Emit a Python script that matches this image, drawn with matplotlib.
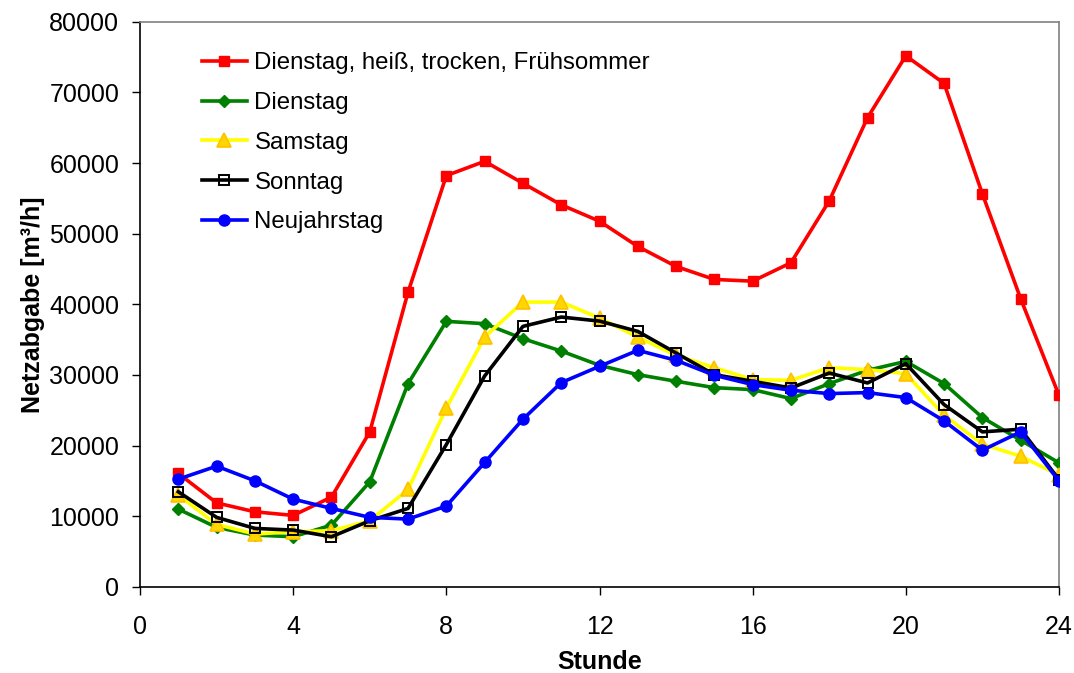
import matplotlib
matplotlib.use("Agg")
import matplotlib.pyplot as plt

hours = list(range(1, 25))

labels = ["Dienstag, heiß, trocken, Frühsommer", "Dienstag", "Samstag", "Sonntag", "Neujahrstag"]

dienstag_heiss = [16070, 11900, 10640, 10130, 12720, 21950, 41730, 58220, 60240, 57130,
                  54080, 51760, 48190, 45360, 43520, 43280, 45880, 54640, 66410, 75170,
                  71260, 55630, 40790, 27130]
dienstag = [11020, 8430, 7350, 7110, 8760, 14880, 28780, 37590, 37260, 35140,
            33390, 31370, 30050, 29110, 28210, 27930, 26660, 28780, 30660, 31930,
            28780, 23980, 20770, 17570]
samstag = [13000, 8860, 7490, 7820, 7960, 9370, 13800, 25340, 35370, 40320,
           40320, 38060, 35370, 32780, 31040, 29350, 29250, 31040, 30760, 30190,
           24300, 20210, 18510, 15830]
sonntag = [13470, 9850, 8290, 8050, 7110, 9370, 11120, 20160, 29860, 36880,
           38200, 37630, 36170, 33110, 30050, 29110, 28160, 30280, 28870, 31600,
           25810, 21950, 22330, 15200]
neujahrstag = [15260, 17100, 15020, 12430, 11120, 9850, 9610, 11450, 17620, 23740,
               28920, 31230, 33490, 32080, 29960, 28640, 27840, 27370, 27510, 26800,
               23500, 19360, 21950, 15020]

x_ticks = [0, 4, 8, 12, 16, 20, 24]
y_ticks = [0, 10000, 20000, 30000, 40000, 50000, 60000, 70000, 80000]

plt.rcParams['font.family'] = ['Liberation Sans', 'DejaVu Sans']

fig = plt.figure(figsize=(10.74, 6.73), dpi=100)
ax = fig.add_axes([0.1304, 0.1278, 0.8556, 0.8400])

lw = 2.6
ax.plot(hours, dienstag_heiss, color='#FF0000', lw=lw, marker='s', ms=7.5,
        mfc='#FF0000', mec='#FF0000', label=labels[0], zorder=3)
ax.plot(hours, dienstag, color='#008000', lw=lw, marker='D', ms=6.5,
        mfc='#008000', mec='#008000', label=labels[1], zorder=4)
ax.plot(hours, samstag, color='#FFFF00', lw=lw, marker='^', ms=9.5,
        mfc='#FFD700', mec='#FFC000', mew=1.2, label=labels[2], zorder=5)
ax.plot(hours, sonntag, color='#000000', lw=lw, marker='s', ms=7.5,
        mfc='none', mec='#000000', mew=1.4, label=labels[3], zorder=6)
ax.plot(hours, neujahrstag, color='#0000FF', lw=lw, marker='o', ms=8,
        mfc='#0000FF', mec='#0000FF', label=labels[4], zorder=7)

ax.set_xlim(0, 24)
ax.set_ylim(0, 80000)
ax.set_xticks(x_ticks)
ax.set_yticks(y_ticks)
ax.tick_params(axis='both', direction='out', length=6, width=1, labelsize=18, colors='black')
ax.tick_params(axis='x', pad=14)
ax.tick_params(axis='y', pad=9)

ax.spines['left'].set_color('black')
ax.spines['bottom'].set_color('black')
ax.spines['top'].set_color('#808080')
ax.spines['right'].set_color('#808080')
for s in ax.spines.values():
    s.set_linewidth(1.2)

ax.set_xlabel('Stunde', fontsize=18, fontweight='bold', labelpad=8)
ax.set_ylabel('Netzabgabe [m³/h]', fontsize=18, fontweight='bold', labelpad=3)

leg = ax.legend(loc='upper left', bbox_to_anchor=(0.067, 0.946), frameon=False,
                fontsize=17.3, borderaxespad=0, borderpad=0, handlelength=1.9,
                handletextpad=0.3, labelspacing=0.74)

fig.savefig('out.png', dpi=100)
